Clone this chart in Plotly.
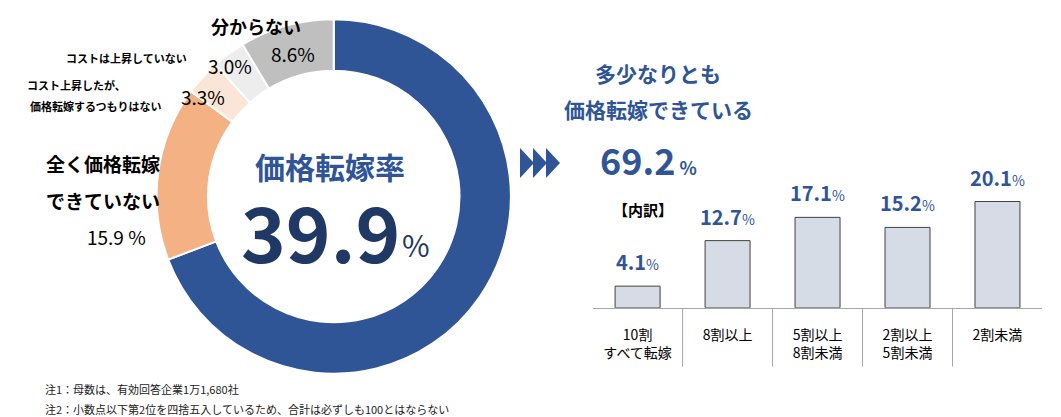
import plotly.graph_objects as go

pie_labels = ["価格転嫁できている", "全く価格転嫁できていない", "コスト上昇したが、価格転嫁するつもりはない", "コストは上昇していない", "分からない"]
pie_values = [69.2, 15.9, 3.3, 3.0, 8.6]
pie_colors = ["#2F5597", "#F4B183", "#FBE5D6", "#EDEDED", "#BFBFBF"]

bar_cats = ["10割<br>すべて転嫁", "8割以上", "5割以上<br>8割未満", "2割以上<br>5割未満", "2割未満"]
bar_values = [4.1, 12.7, 17.1, 15.2, 20.1]

BLUE = "#2F5597"
FONT = "Noto Sans CJK JP"

fig = go.Figure()
fig.add_trace(go.Pie(values=pie_values, labels=pie_labels, hole=0.71, sort=False,
                     direction="clockwise", rotation=0, textinfo="none",
                     marker=dict(colors=pie_colors, line=dict(color="white", width=2)),
                     domain=dict(x=[0.140, 0.474], y=[0.113, 0.983]), showlegend=False))
fig.add_trace(go.Bar(x=list(range(5)), y=bar_values, marker=dict(color="#D6DCE5", line=dict(color="#404040", width=1)),
                     width=0.5, showlegend=False))

fig.update_layout(width=1061, height=417, margin=dict(l=0, r=0, t=0, b=0),
                  paper_bgcolor="white", plot_bgcolor="white", font=dict(family=FONT, color="black"),
                  xaxis=dict(domain=[0.551, 0.975], range=[-0.5, 4.5], tickvals=list(range(5)), ticktext=bar_cats,
                             showgrid=False, zeroline=False, showline=True, linecolor="#A6A6A6",
                             tickfont=dict(size=14, family=FONT, color="black"), ticks="", ticklabelstandoff=14),
                  yaxis=dict(domain=[0.281, 0.64], range=[0, 28.3], visible=False))

for i in range(4):
    fig.add_shape(type="line", xref="x", yref="paper", x0=i + 0.5, x1=i + 0.5, y0=0.281, y1=0.14,
                  line=dict(color="#A6A6A6", width=1))

for i, v in enumerate(bar_values):
    fig.add_annotation(x=i, y=v, xref="x", yref="y", yanchor="bottom", yshift=8, showarrow=False,
                       text=f"<b>{v}</b><span style='font-size:14px'>%</span>",
                       font=dict(size=20, color=BLUE, family=FONT))

def ann(x, y, text, size, color="black", xanchor="center", bold=True):
    fig.add_annotation(x=x / 1061, y=1 - y / 417, xref="paper", yref="paper", showarrow=False,
                       xanchor=xanchor, yanchor="middle", text=f"<b>{text}</b>" if bold else text,
                       font=dict(size=size, color=color, family=FONT), align="left")

ann(322, 158, "価格転嫁率", 30, BLUE)
ann(312, 222, "39.9", 76, "#1F3864")
ann(408, 236, "%", 30, "#1F3864", bold=False)
ann(650, 65, "多少なりとも", 21, BLUE)
ann(650, 101, "価格転嫁できている", 21, BLUE)
ann(640, 151, "69.2<span style='font-size:18px'> %</span>", 36, BLUE)
ann(635, 201, "【内訳】", 15)
ann(248, 18, "分からない", 18)
ann(285, 45, "8.6%", 19, "black", bold=False)
ann(118, 50, "コストは上昇していない", 11)
ann(222, 57, "3.0%", 19, "black", bold=False)
ann(68, 77, "コスト上昇したが、", 11)
ann(88, 98, "価格転嫁するつもりはない", 11)
ann(195, 88, "3.3%", 19, "black", bold=False)
ann(95, 155, "全く価格転嫁", 19)
ann(95, 192, "できていない", 19)
ann(108, 228, "15.9 %", 19, "black", bold=False)
ann(35, 381, "注1：母数は、有効回答企業1万1,680社", 11, "#222", xanchor="left", bold=False)
ann(35, 401, "注2：小数点以下第2位を四捨五入しているため、合計は必ずしも100とはならない", 11, "#222", xanchor="left", bold=False)

for k in range(3):
    x0 = 512 + k * 13
    fig.add_shape(type="path", xref="paper", yref="paper",
                  path=f"M {x0/1061},{1-140/417} L {(x0+14)/1061},{1-155/417} L {x0/1061},{1-170/417} Z",
                  fillcolor=BLUE, line=dict(width=0))

fig.write_html("out.html")
